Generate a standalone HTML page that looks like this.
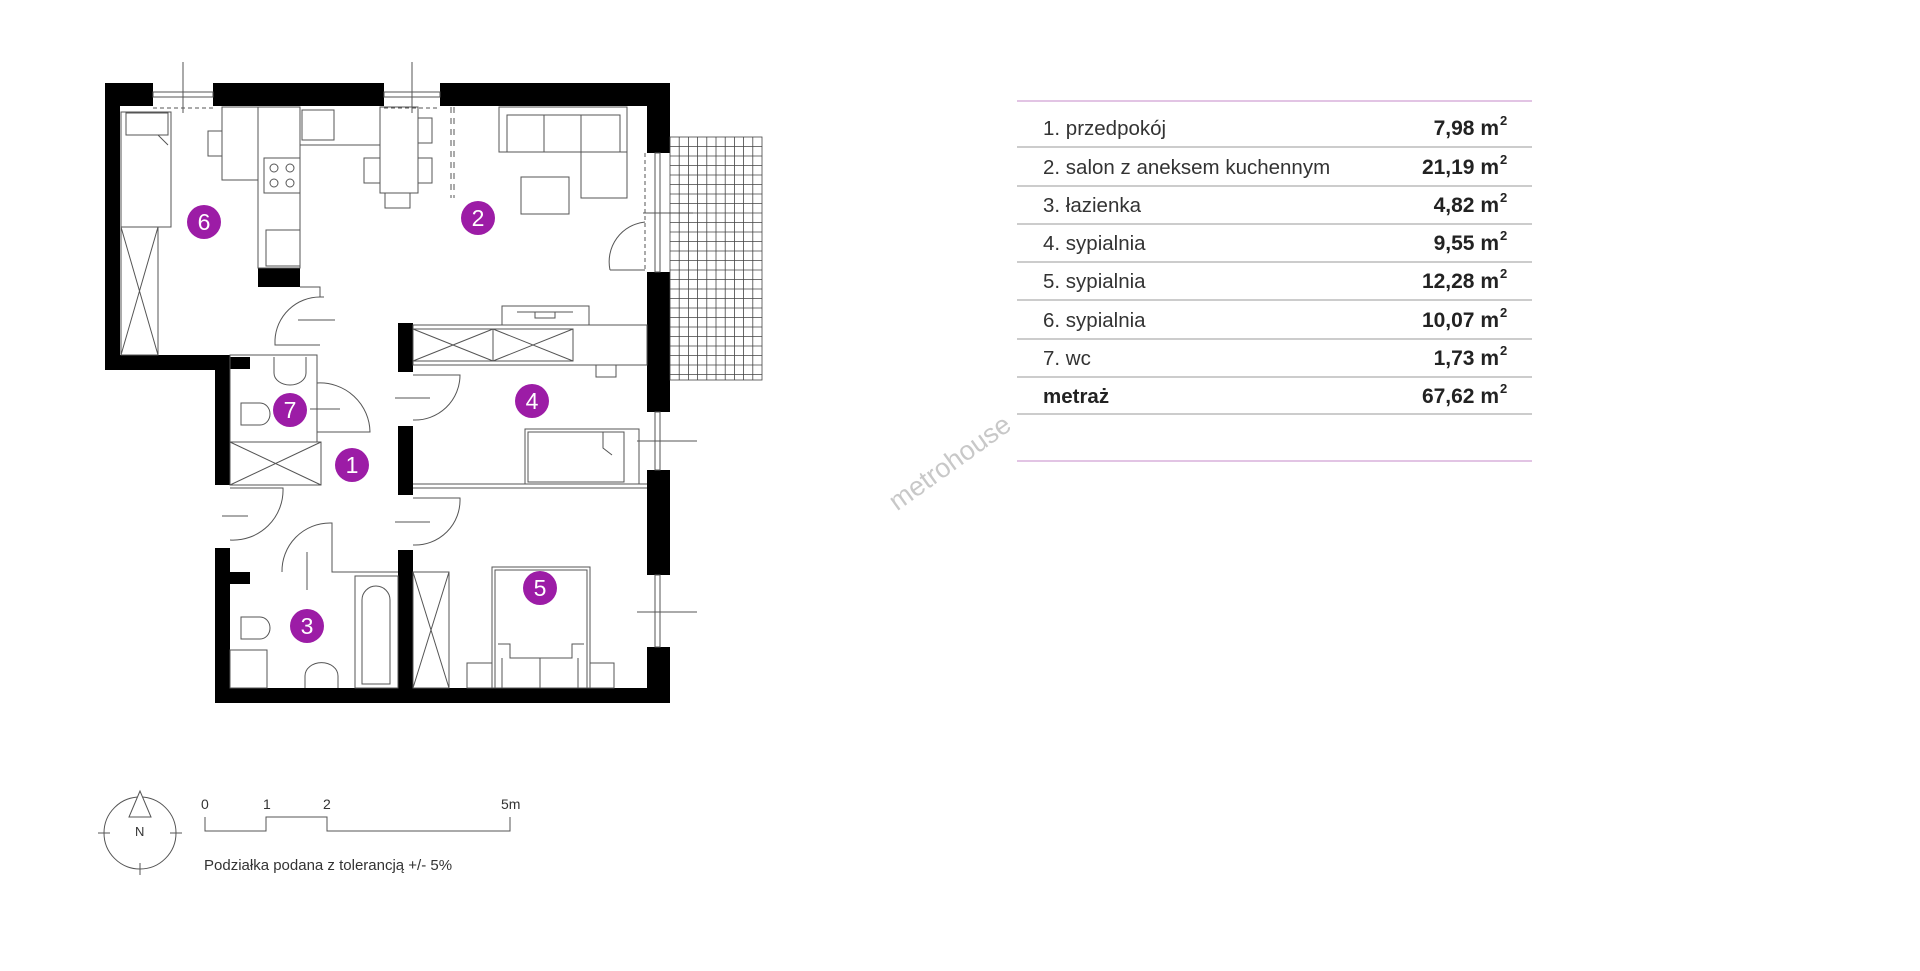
<!DOCTYPE html>
<html><head><meta charset="utf-8"><style>
html,body{margin:0;padding:0;background:#fff;}
body{width:1920px;height:971px;overflow:hidden;position:relative;font-family:"Liberation Sans",sans-serif;}
svg{position:absolute;left:0;top:0;}
</style></head><body>
<svg width="1920" height="971" viewBox="0 0 1920 971" xmlns="http://www.w3.org/2000/svg">
<g fill="#000">
<rect x="105" y="83" width="48" height="23"/>
<rect x="213" y="83" width="171" height="23"/>
<rect x="440" y="83" width="230" height="23"/>
<rect x="105" y="83" width="15" height="287"/>
<rect x="105" y="355" width="125" height="15"/>
<rect x="215" y="355" width="15" height="130"/>
<rect x="215" y="548" width="15" height="155"/>
<rect x="215" y="688" width="455" height="15"/>
<rect x="647" y="83" width="23" height="70"/>
<rect x="647" y="272" width="23" height="140"/>
<rect x="647" y="470" width="23" height="105"/>
<rect x="647" y="647" width="23" height="56"/>
<rect x="398" y="323" width="15" height="49"/>
<rect x="398" y="426" width="15" height="69"/>
<rect x="398" y="550" width="15" height="140"/>
<rect x="258" y="268" width="42" height="19"/>
<rect x="230" y="357" width="20" height="12"/>
<rect x="230" y="572" width="20" height="12"/>
</g>
<g fill="none" stroke="#555" stroke-width="1">
<rect x="153" y="92" width="60" height="5"/><rect x="384" y="92" width="56" height="5"/>
<line x1="183" y1="62" x2="183" y2="113"/><line x1="412" y1="62" x2="412" y2="113"/>
<line x1="153" y1="108" x2="213" y2="108" stroke-dasharray="4 3"/>
<line x1="384" y1="108" x2="440" y2="108" stroke-dasharray="4 3"/>
<rect x="655" y="153" width="5" height="119"/>
<line x1="645" y1="153" x2="645" y2="272" stroke-dasharray="4 3"/>
<line x1="643" y1="213" x2="693" y2="213"/>
<path d="M645 270 L610 270 M610 270 A40 40 0 0 1 645 222"/>
<rect x="655" y="412" width="5" height="58"/><line x1="637" y1="441" x2="697" y2="441"/>
<rect x="655" y="575" width="5" height="72"/><line x1="637" y1="612" x2="697" y2="612"/>
<rect x="121" y="112" width="50" height="115"/>
<rect x="126" y="113" width="42" height="22"/>
<path d="M152 135 L158 135 L168 145"/>
<rect x="121" y="227" width="37" height="128"/>
<path d="M121 227 L158 355 M158 227 L121 355"/>
<rect x="222" y="107" width="36" height="73"/><rect x="208" y="131" width="14" height="25"/>
<rect x="258" y="107" width="42" height="161"/>
<line x1="300" y1="145" x2="380" y2="145"/>
<rect x="302" y="110" width="32" height="30"/>
<rect x="264" y="158" width="36" height="35"/>
<circle cx="274" cy="168" r="4"/><circle cx="290" cy="168" r="4"/><circle cx="274" cy="183" r="4"/><circle cx="290" cy="183" r="4"/>
<rect x="266" y="230" width="34" height="36"/>
<path d="M300 287 L320 287 L320 297 L324 297"/>
<rect x="380" y="107" width="38" height="86"/>
<rect x="364" y="158" width="16" height="25"/><rect x="418" y="118" width="14" height="25"/><rect x="418" y="158" width="14" height="25"/>
<rect x="385" y="193" width="25" height="15"/>
<line x1="451" y1="107" x2="451" y2="198" stroke-dasharray="6 5"/>
<line x1="454" y1="107" x2="454" y2="198" stroke-dasharray="6 5"/>
<rect x="499" y="107" width="128" height="45"/>
<rect x="507" y="115" width="113" height="37"/>
<line x1="544" y1="115" x2="544" y2="152"/><line x1="581" y1="115" x2="581" y2="198"/>
<rect x="581" y="152" width="46" height="46"/>
<rect x="521" y="177" width="48" height="37"/>
<rect x="502" y="306" width="87" height="19"/>
<path d="M517 312 L573 312 M535 312 L535 318 L555 318 L555 312"/>
<rect x="413" y="325" width="234" height="40"/>
<rect x="413" y="329" width="160" height="32"/>
<path d="M413 329 L493 361 M493 329 L413 361 M493 329 L573 361 M573 329 L493 361 M493 329 L493 361"/>
<rect x="596" y="365" width="20" height="12"/>
<path d="M320 297 A45 45 0 0 0 275 340 L275 345 L320 345"/>
<line x1="298" y1="320" x2="335" y2="320"/>
<path d="M413 375 L460 375 A45 45 0 0 1 413 420"/>
<line x1="395" y1="398" x2="430" y2="398"/>
<path d="M413 498 L460 498 A45 45 0 0 1 413 545"/>
<line x1="395" y1="522" x2="430" y2="522"/>
<path d="M230 488 L283 488 A50 50 0 0 1 230 540"/>
<line x1="222" y1="516" x2="248" y2="516"/>
<path d="M282 572 A48 48 0 0 1 330 523"/>
<line x1="307" y1="552" x2="307" y2="590"/>
<path d="M330 523 L332 523 L332 572 L398 572"/>
<rect x="230" y="355" width="87" height="87"/>
<rect x="230" y="442" width="91" height="43"/>
<path d="M230 442 L321 485 M321 442 L230 485"/>
<path d="M274 357 L274 373 A16 12 0 0 0 306 373 L306 357"/>
<path d="M241 403 L260 403 A10 11 0 0 1 260 425 L241 425 Z"/>
<path d="M317 383 A50 50 0 0 1 370 432 L317 432"/>
<line x1="310" y1="409" x2="340" y2="409"/>
<path d="M241 617 L260 617 A10 11 0 0 1 260 639 L241 639 Z"/>
<rect x="230" y="650" width="37" height="38"/>
<path d="M305 688 L305 676 A16 13 0 0 1 338 676 L338 688"/>
<rect x="355" y="576" width="43" height="112"/>
<path d="M362 684 L362 600 A13 13 0 0 1 390 600 L390 684 Z"/>
<line x1="413" y1="484" x2="647" y2="484"/><line x1="413" y1="488" x2="647" y2="488"/>
<rect x="525" y="429" width="114" height="55"/>
<rect x="528" y="432" width="96" height="50"/>
<path d="M603 432 L603 448 L612 455"/>
<rect x="413" y="572" width="36" height="116"/>
<path d="M413 572 L449 688 M449 572 L413 688"/>
<rect x="492" y="567" width="98" height="121"/>
<rect x="495" y="570" width="92" height="118"/>
<rect x="467" y="663" width="25" height="25"/><rect x="590" y="663" width="24" height="25"/>
<path d="M498 644 L510 644 L510 658 L540 658 L540 688 M540 658 L572 658 L572 644 L584 644 M502 658 L502 688 M578 658 L578 688"/>
</g>
<g stroke="#444" stroke-width="0.8">
<rect x="670" y="137" width="92" height="243" fill="none"/>
<path d="M679.2 137V380M688.4 137V380M697.6 137V380M706.8 137V380M716 137V380M725.2 137V380M734.4 137V380M743.6 137V380M752.8 137V380
M670 146.5H762M670 156H762M670 165.5H762M670 175H762M670 184.5H762M670 194H762M670 203.5H762M670 213H762M670 222.5H762M670 232H762M670 241.5H762M670 251H762M670 260.5H762M670 270H762M670 279.5H762M670 289H762M670 298.5H762M670 308H762M670 317.5H762M670 327H762M670 336.5H762M670 346H762M670 355.5H762M670 365H762M670 374.5H762"/>
</g>
<g fill="#9c1ca6">
<circle cx="204" cy="222" r="17"/><circle cx="478" cy="218" r="17"/><circle cx="290" cy="410" r="17"/>
<circle cx="352" cy="465" r="17"/><circle cx="532" cy="401" r="17"/><circle cx="307" cy="626" r="17"/><circle cx="540" cy="588" r="17"/>
</g>
<g fill="#fff" font-size="23" text-anchor="middle" font-family="Liberation Sans, sans-serif">
<text x="204" y="230">6</text><text x="478" y="226">2</text><text x="290" y="418">7</text><text x="352" y="473">1</text>
<text x="532" y="409">4</text><text x="307" y="634">3</text><text x="540" y="596">5</text>
</g>
<g fill="none" stroke="#555" stroke-width="1">
<circle cx="140" cy="833" r="36"/>
<line x1="98" y1="833" x2="110" y2="833"/><line x1="170" y1="833" x2="182" y2="833"/><line x1="140" y1="863" x2="140" y2="875"/>
<path d="M140 791 L129 817 L151 817 Z" fill="#fff"/>
<path d="M205 817 L205 831 L266 831 L266 817 L327 817 L327 831 L510 831 L510 817"/>
</g>
<g fill="#333" font-size="14">
<text x="135" y="836" font-size="13">N</text>
<text x="201" y="809">0</text><text x="263" y="809">1</text><text x="323" y="809">2</text><text x="501" y="809">5m</text>
<text x="204" y="870" font-size="15">Podziałka podana z tolerancją +/- 5%</text>
</g>
<text x="955" y="470" font-size="27" fill="#c8c8c8" text-anchor="middle" transform="rotate(-35.6 955 470)">metrohouse</text>
<g stroke-width="1.5">
<line x1="1017" y1="101" x2="1532" y2="101" stroke="#d8b0dc"/>
<line x1="1017" y1="461" x2="1532" y2="461" stroke="#d8b0dc"/>
<g stroke="#bbb">
<line x1="1017" y1="147" x2="1532" y2="147"/><line x1="1017" y1="186" x2="1532" y2="186"/>
<line x1="1017" y1="224" x2="1532" y2="224"/><line x1="1017" y1="262" x2="1532" y2="262"/>
<line x1="1017" y1="300" x2="1532" y2="300"/><line x1="1017" y1="339" x2="1532" y2="339"/>
<line x1="1017" y1="377" x2="1532" y2="377"/><line x1="1017" y1="414" x2="1532" y2="414"/>
</g></g>
<g font-size="20.5" fill="#333">
<text x="1043" y="135">1. przedpokój</text>
<text x="1043" y="174">2. salon z aneksem kuchennym</text>
<text x="1043" y="212">3. łazienka</text>
<text x="1043" y="250">4. sypialnia</text>
<text x="1043" y="288">5. sypialnia</text>
<text x="1043" y="327">6. sypialnia</text>
<text x="1043" y="365">7. wc</text>
<text x="1043" y="403" font-weight="bold" fill="#222">metraż</text>
</g>
<g font-size="21" fill="#222" font-weight="bold" text-anchor="end">
<text x="1499" y="135">7,98 m</text><text x="1499" y="174">21,19 m</text><text x="1499" y="212">4,82 m</text>
<text x="1499" y="250">9,55 m</text><text x="1499" y="288">12,28 m</text><text x="1499" y="327">10,07 m</text>
<text x="1499" y="365">1,73 m</text><text x="1499" y="403">67,62 m</text>
</g>
<g font-size="13" fill="#222" font-weight="bold">
<text x="1500" y="125">2</text><text x="1500" y="164">2</text><text x="1500" y="202">2</text><text x="1500" y="240">2</text>
<text x="1500" y="278">2</text><text x="1500" y="317">2</text><text x="1500" y="355">2</text><text x="1500" y="393">2</text>
</g>
</svg>
</body></html>
